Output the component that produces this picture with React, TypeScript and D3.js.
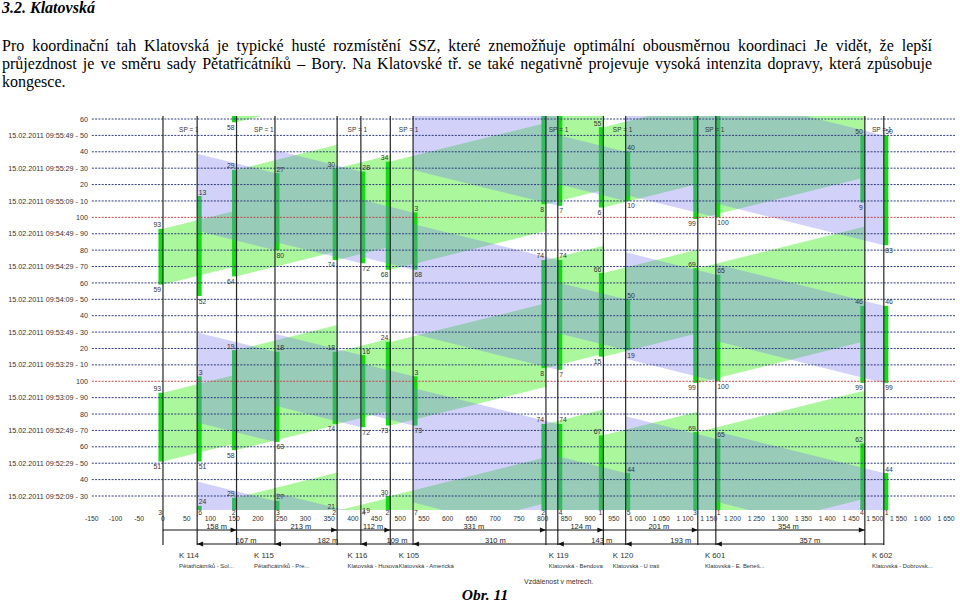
import React, { useMemo } from "react";
import * as d3 from "d3";

const W = 960;
const H = 603;

// ---- text of the page ----
const headingText = "3.2. Klatovská";
const paragraphLines = [
  "Pro koordinační tah Klatovská je typické husté rozmístění SSZ, které znemožňuje optimální obousměrnou koordinaci Je vidět, že lepší",
  "průjezdnost je ve směru sady Pětatřicátníků – Bory. Na Klatovské tř. se také negativně projevuje vysoká intenzita dopravy, která způsobuje",
  "kongesce.",
];
const captionText = "Obr. 11";
const distanceNote = "Vzdálenost v metrech.";

// ---- intersections ----
const nodeIds = ["K 114", "K 115", "K 116", "K 105", "K 119", "K 120", "K 601", "K 602"];
const nodeNames = [
  "Pětatřicátníků - Sol...",
  "Pětatřicátníků - Pre...",
  "Klatovská - Husova",
  "Klatovská - Americká",
  "Klatovská - Bendova",
  "Klatovská - U trati",
  "Klatovská - E. Beneš...",
  "Klatovská - Dobrovsk...",
];
const nodeLabelPos = [34, 192, 389, 497, 813, 948, 1142, 1494]; // m
const dir1Pos = [0, 155, 367, 479, 807, 928, 1127, 1479]; // m, stop lines direction 1
const dir2Pos = [72, 236, 417, 527, 832, 975, 1165, 1519]; // m, stop lines direction 2
const dist1 = [158, 213, 112, 331, 124, 201, 354];
const dist2 = [167, 182, 109, 310, 143, 193, 357];

// green intervals [start, end] in seconds on the time axis
const greens1: number[][][] = [
  [[51, 93], [159, 193]],
  [[2, 29], [58, 119], [164, 229], [258, 319]],
  [[2, 21], [74, 118], [174, 230]],
  [[2, 30], [73, 124], [168, 234]],
  [[2, 74], [108, 174], [208, 274]],
  [[1, 67], [115, 166], [206, 255]],
  [[3, 69], [99, 169], [199, 269]],
  [[4, 62], [99, 146], [209, 250]],
];
const greens2: number[][][] = [
  [[6, 24], [51, 103], [152, 213]],
  [[3, 27], [63, 118], [180, 227]],
  [[4, 19], [72, 116], [172, 228]],
  [[73, 103], [168, 203]],
  [[4, 74], [107, 174], [207, 274]],
  [[5, 44], [119, 150], [210, 240]],
  [[1, 65], [100, 165], [200, 265]],
  [[1, 44], [99, 146], [183, 250]],
];
const bottomLabels1 = [3, 2, 2, 2, 2, 1, 3, 4];
const bottomLabels2 = [6, 3, 4, 7, 4, 5, 1, 1];
const programLabel = "SP = 1";
const speedKmh = 50;

// ---- axes ----
const timeTicks = d3.range(30, 261, 10);
const distTicks = d3.range(-150, 1651, 50);
const dateText = "15.02.2011";
const clockStart = [9, 51, 39]; // clock at t = 0

const SANS = "'Liberation Sans', Arial, sans-serif";
const SERIF = "'Liberation Serif', 'Times New Roman', serif";

function cycLabel(t: number) {
  const r = ((Math.round(t) % 100) + 100) % 100;
  return r === 0 ? "100" : String(r);
}
function clock(t: number) {
  const s = clockStart[0] * 3600 + clockStart[1] * 60 + clockStart[2] + t;
  const p = (n: number) => String(n).padStart(2, "0");
  return `${p(Math.floor(s / 3600))}:${p(Math.floor((s % 3600) / 60))}:${p(s % 60)}`;
}
function fmtDist(v: number) {
  const a = Math.abs(v);
  const s = a >= 1000 ? `${Math.floor(a / 1000)} ${String(a % 1000).padStart(3, "0")}` : String(a);
  return v < 0 ? "-" + s : s;
}

export default function App() {
  const xS = d3.scaleLinear().domain([-150, 1669]).range([91.8, 955]);
  const yS = d3.scaleLinear().domain([30, 260]).range([496, 119]);
  const plotTop = 116;
  const plotBottom = 510;
  const tMax = yS.invert(plotTop);
  const tMin = yS.invert(plotBottom);
  const v = speedKmh / 3.6;

  const wordSpacing = useMemo(() => {
    const c = document.createElement("canvas").getContext("2d");
    if (!c) return [0, 0, 0];
    c.font = `16px ${SERIF}`;
    return paragraphLines.map((l, i) => {
      if (i === paragraphLines.length - 1) return 0;
      const w = c.measureText(l).width;
      const n = l.split(" ").length - 1;
      return (930 - w) / n;
    });
  }, []);

  const bands1: number[][][] = [];
  for (let i = 0; i < dir1Pos.length - 1; i++) {
    const u = dir1Pos[i], d = dir1Pos[i + 1];
    const dt = (d - u) / v;
    for (const [s, e] of greens1[i]) bands1.push([[u, s], [u, e], [d, e + dt], [d, s + dt]]);
  }
  const bands2: number[][][] = [];
  for (let i = 0; i < dir2Pos.length - 1; i++) {
    const u = dir2Pos[i + 1], d = dir2Pos[i];
    const dt = (u - d) / v;
    for (const [s, e] of greens2[i + 1]) bands2.push([[u, s], [u, e], [d, e + dt], [d, s + dt]]);
  }
  const pts = (p: number[][]) => p.map(([d, t]) => `${xS(d)},${yS(t)}`).join(" ");

  const bars: { x: number; y0: number; y1: number; dir: number }[] = [];
  const barLabels: { x: number; y: number; text: string; anchor: string }[] = [];
  [greens1, greens2].forEach((G, dir) => {
    const P = dir === 0 ? dir1Pos : dir2Pos;
    G.forEach((list, i) => {
      const lx = xS(P[i]);
      const anchor = dir === 0 ? "end" : "start";
      const tx = dir === 0 ? lx - 2 : lx + 1.5;
      list.forEach(([s, e]) => {
        const y0 = yS(Math.min(e, tMax));
        const y1 = yS(Math.max(s, tMin));
        bars.push({ x: dir === 0 ? lx - 4.5 : lx, y0, y1, dir });
        if (e <= tMax) barLabels.push({ x: tx, y: yS(e) - 1.5, text: cycLabel(e), anchor });
        if (s >= tMin) barLabels.push({ x: tx, y: yS(s) + 7.5, text: cycLabel(s), anchor });
      });
    });
  });

  const arrowR = (x: number, y: number) => `M${x},${y}L${x - 6},${y - 2.6}L${x - 6},${y + 2.6}Z`;
  const arrowL = (x: number, y: number) => `M${x},${y}L${x + 6},${y - 2.6}L${x + 6},${y + 2.6}Z`;
  const row1Y = 530;
  const row2Y = 544;

  return (
    <svg
      width={W}
      height={H}
      viewBox={`0 0 ${W} ${H}`}
      style={{ position: "absolute", left: 0, top: 0, background: "#fff" }}
    >
      <defs>
        <clipPath id="plotClip">
          <rect x={xS(-150)} y={plotTop} width={955 - xS(-150)} height={plotBottom - plotTop} />
        </clipPath>
      </defs>

      {/* page text */}
      <text x={2} y={13} fontFamily={SERIF} fontSize={16} fontWeight="bold" fontStyle="italic" fill="#000">
        {headingText}
      </text>
      {paragraphLines.map((l, i) => (
        <text
          key={i}
          x={2}
          y={50.5 + i * 18}
          fontFamily={SERIF}
          fontSize={16}
          fill="#000"
          wordSpacing={wordSpacing[i]}
          style={{ whiteSpace: "pre" }}
        >
          {l}
        </text>
      ))}

      {/* bands, bars */}
      <g clipPath="url(#plotClip)">
        {bands1.map((b, i) => (
          <polygon key={"g" + i} points={pts(b)} fill="#abf89c" />
        ))}
        {bars.map((b, i) => (
          <rect key={"b" + i} x={b.x} y={b.y0} width={4.5} height={Math.max(0, b.y1 - b.y0)} fill="#14dc14" />
        ))}
        {bands2.map((b, i) => (
          <polygon key={"l" + i} points={pts(b)} fill="#7878f0" fillOpacity={0.34} />
        ))}
      </g>

      {/* grid */}
      {timeTicks.map((t) => (
        <line
          key={"h" + t}
          x1={xS(-150)}
          x2={955}
          y1={yS(t)}
          y2={yS(t)}
          stroke={t % 100 === 0 ? "#c04848" : "#2e3c7c"}
          strokeWidth={1}
          strokeDasharray="2,1.3"
        />
      ))}

      {/* time labels */}
      {timeTicks.map((t) => (
        <text
          key={"tl" + t}
          x={88}
          y={yS(t) + 2.6}
          textAnchor="end"
          fontFamily={SANS}
          fontSize={7.2}
          fill="#333"
        >
          {(t - 30) % 20 === 0 ? `${dateText} ${clock(t)} - ${cycLabel(t)}` : cycLabel(t)}
        </text>
      ))}

      {/* signal lines */}
      {[...dir1Pos, ...dir2Pos].map((d, i) => (
        <line key={"v" + i} x1={xS(d)} x2={xS(d)} y1={plotTop} y2={545} stroke="#262626" strokeWidth={1.2} />
      ))}

      {/* bar labels */}
      {barLabels.map((l, i) => (
        <text key={"bl" + i} x={l.x} y={l.y} textAnchor={l.anchor as any} fontFamily={SANS} fontSize={6.8} fill="#333">
          {l.text}
        </text>
      ))}

      {/* program labels */}
      {nodeLabelPos.map((d, i) => (
        <text key={"sp" + i} x={xS(d)} y={132} fontFamily={SANS} fontSize={6.5} fill="#333">
          {programLabel}
        </text>
      ))}

      {/* bottom clipped labels */}
      {bottomLabels1.map((b, i) => (
        <text key={"b1" + i} x={xS(dir1Pos[i]) - 1} y={514.5} textAnchor="end" fontFamily={SANS} fontSize={6.8} fill="#333">
          {b}
        </text>
      ))}
      {bottomLabels2.map((b, i) => (
        <text key={"b2" + i} x={xS(dir2Pos[i]) + 1} y={514.5} fontFamily={SANS} fontSize={6.8} fill="#333">
          {b}
        </text>
      ))}

      {/* distance axis */}
      {distTicks.map((d) => (
        <text key={"x" + d} x={xS(d)} y={520.5} textAnchor="middle" fontFamily={SANS} fontSize={6.8} fill="#333">
          {fmtDist(d)}
        </text>
      ))}

      {/* distance annotations */}
      <line x1={xS(dir1Pos[0])} x2={xS(dir1Pos[dir1Pos.length - 1])} y1={row1Y} y2={row1Y} stroke="#111" strokeWidth={1} />
      <line x1={xS(dir2Pos[0])} x2={xS(dir2Pos[dir2Pos.length - 1])} y1={row2Y} y2={row2Y} stroke="#111" strokeWidth={1} />
      {dist1.map((m, i) => (
        <g key={"d1" + i}>
          <path d={arrowR(xS(dir1Pos[i + 1]), row1Y)} fill="#111" />
          <text
            x={(xS(nodeLabelPos[i]) + xS(nodeLabelPos[i + 1])) / 2}
            y={row1Y - 1}
            textAnchor="middle"
            fontFamily={SANS}
            fontSize={7.5}
            fill="#222"
          >
            {`${m} m`}
          </text>
        </g>
      ))}
      {dist2.map((m, i) => (
        <g key={"d2" + i}>
          <path d={arrowL(xS(dir2Pos[i]), row2Y)} fill="#111" />
          <text
            x={(xS(dir2Pos[i]) + xS(dir2Pos[i + 1])) / 2 + 10}
            y={row2Y - 1}
            textAnchor="middle"
            fontFamily={SANS}
            fontSize={7.5}
            fill="#222"
          >
            {`${m} m`}
          </text>
        </g>
      ))}

      {/* intersection labels */}
      {nodeIds.map((k, i) => (
        <g key={"n" + i}>
          <text x={xS(nodeLabelPos[i])} y={557.5} fontFamily={SANS} fontSize={7.8} fill="#333">
            {k}
          </text>
          <text x={xS(nodeLabelPos[i])} y={567.5} fontFamily={SANS} fontSize={5.9} fill="#333">
            {nodeNames[i]}
          </text>
        </g>
      ))}
      <text x={524} y={584} fontFamily={SANS} fontSize={7} fill="#333">
        {distanceNote}
      </text>

      <text x={485} y={600} textAnchor="middle" fontFamily={SERIF} fontSize={15.5} fontWeight="bold" fontStyle="italic" fill="#000">
        {captionText}
      </text>
    </svg>
  );
}
